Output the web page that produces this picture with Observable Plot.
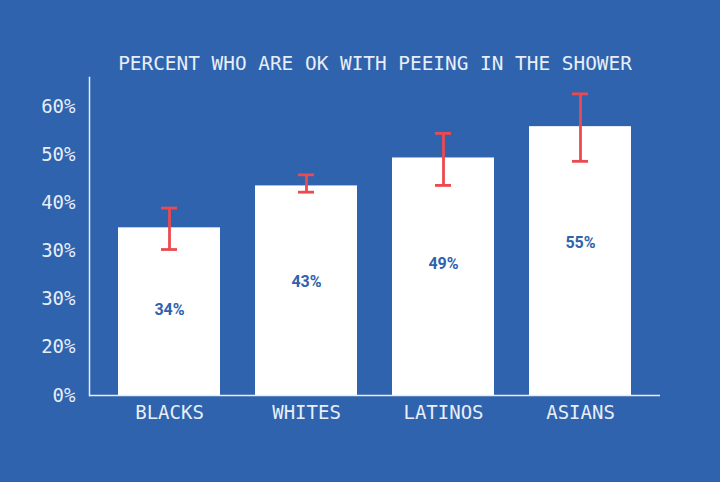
<!DOCTYPE html>
<html>
<head>
<meta charset="utf-8">
<script src="https://cdn.jsdelivr.net/npm/d3@7"></script>
<script src="https://cdn.jsdelivr.net/npm/@observablehq/plot@0.6"></script>
<style>
  html, body { margin: 0; padding: 0; background: #2f63ae; }
</style>
</head>
<body>
<div id="chart"></div>
<script>
const title = "PERCENT WHO ARE OK WITH PEEING IN THE SHOWER";
const categories = ["BLACKS", "WHITES", "LATINOS", "ASIANS"];
const values = [34.8, 43.5, 49.3, 55.8];
const valueLabels = ["34%", "43%", "49%", "55%"];
const errLow = [30.3, 42.2, 43.6, 48.6];
const errHigh = [38.9, 45.8, 54.4, 62.6];
const yTickValues = [0, 10, 20, 30, 40, 50, 60];
const yTickLabels = ["0%", "20%", "30%", "30%", "40%", "50%", "60%"];

const data = categories.map((c, i) => ({
  cat: c, value: values[i], label: valueLabels[i], lo: errLow[i], hi: errHigh[i]
}));

const bg = "#2f63ae";
const fg = "#e8eef8";
const red = "#ec4a50";

const chart = Plot.plot({
  width: 720,
  height: 482,
  marginLeft: 89,
  marginRight: 60,
  marginTop: 77,
  marginBottom: 87,
  style: { background: bg, fontFamily: "'DejaVu Sans Mono', monospace", color: fg },
  x: { type: "band", domain: categories, paddingInner: 0.255, paddingOuter: 0.2, axis: null, label: null },
  y: { domain: [0, 66], axis: null, label: null },
  marks: [
    Plot.barY(data, { x: "cat", y: "value", fill: "white" }),
    Plot.ruleX(data, { x: "cat", y1: "lo", y2: "hi", stroke: red, strokeWidth: 2.8 }),
    Plot.tickY(data, { x: "cat", y: "lo", stroke: red, strokeWidth: 2.8, insetLeft: 43, insetRight: 43 }),
    Plot.tickY(data, { x: "cat", y: "hi", stroke: red, strokeWidth: 2.8, insetLeft: 43, insetRight: 43 }),
    Plot.text(data, {
      x: "cat",
      y: d => d.value * 0.6646 - 5.4,
      text: "label",
      fill: bg,
      fontSize: 16,
      fontWeight: "bold",
      fontFamily: "Roboto, 'Noto Sans', sans-serif"
    }),
    Plot.axisY(yTickValues, {
      tickSize: 0,
      tickPadding: 14,
      label: null,
      tickFormat: d => yTickLabels[yTickValues.indexOf(d)],
      fill: fg,
      fontSize: 19,
      fontFamily: "'DejaVu Sans Mono', monospace"
    }),
    Plot.axisX({
      tickSize: 0,
      tickPadding: 10,
      label: null,
      fill: fg,
      fontSize: 19,
      fontFamily: "'DejaVu Sans Mono', monospace"
    }),
    Plot.frame({ anchor: "left", stroke: fg, strokeWidth: 1.5 }),
    Plot.ruleY([0], { stroke: fg, strokeWidth: 1.5 }),
    Plot.text([title], {
      frameAnchor: "top",
      dy: -14,
      lineAnchor: "middle",
      text: d => d,
      fill: fg,
      fontSize: 19.4,
      fontFamily: "'DejaVu Sans Mono', monospace"
    })
  ]
});

document.getElementById("chart").appendChild(chart);
</script>
</body>
</html>
